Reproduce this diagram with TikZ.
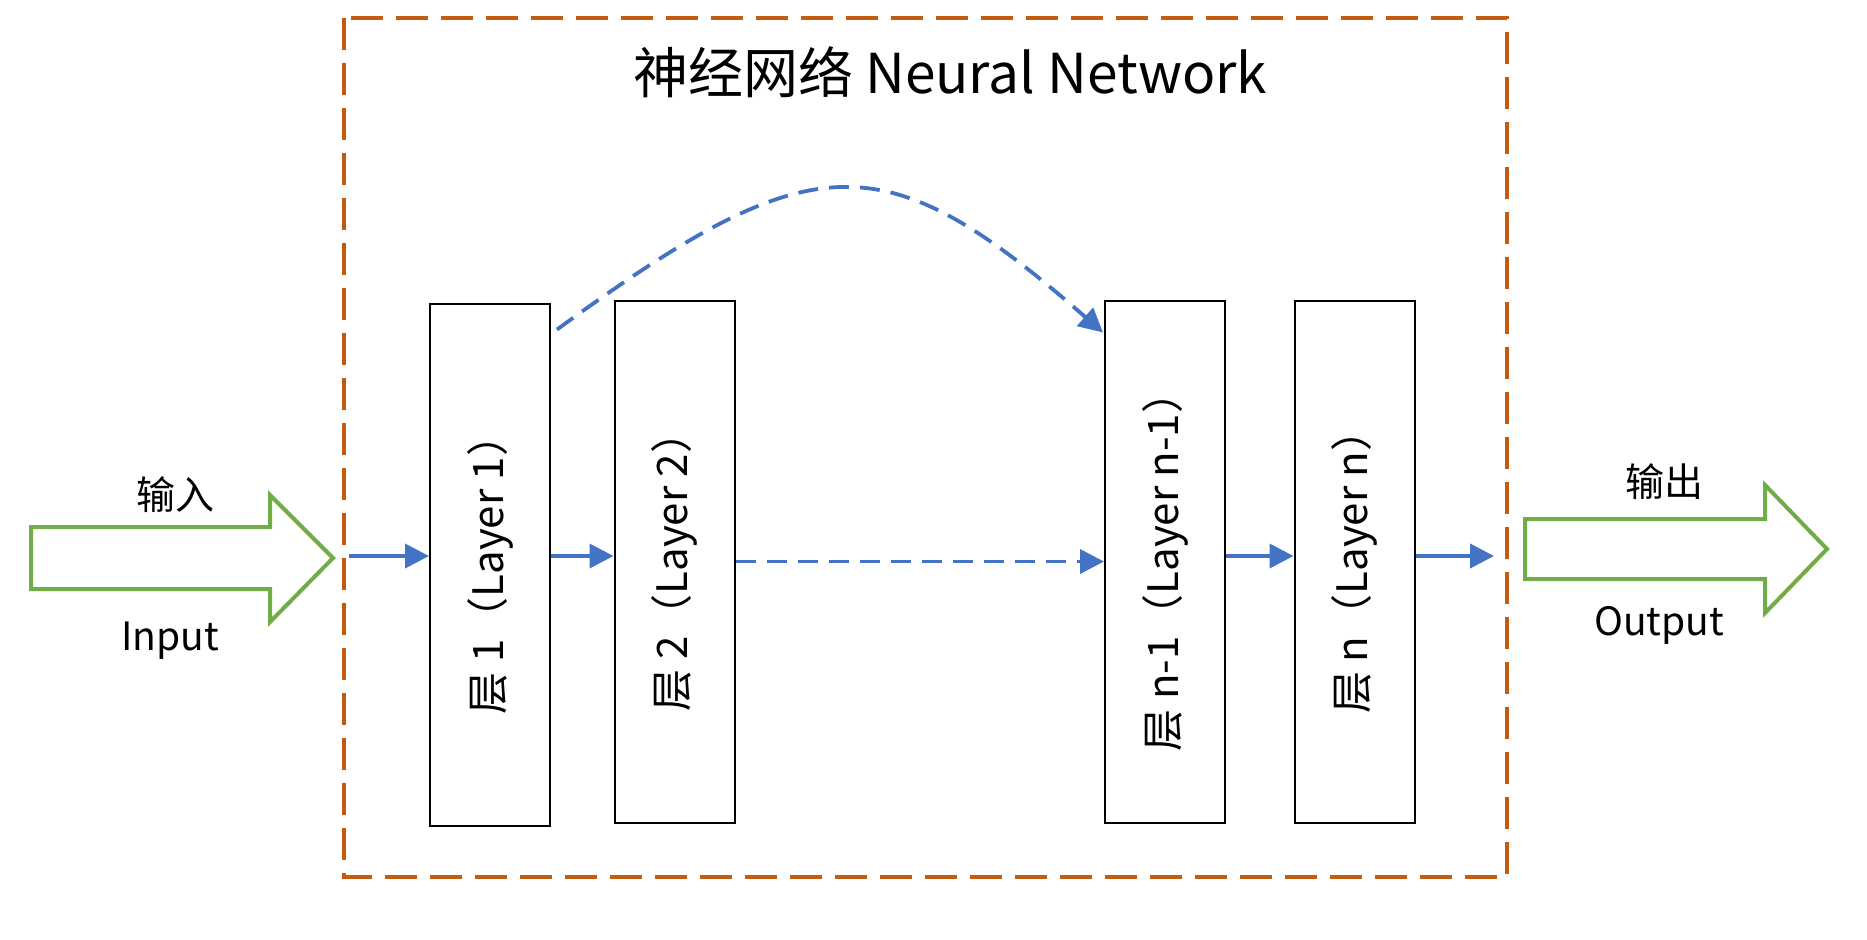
\documentclass[tikz,border=0pt]{standalone}
\usepackage{fontspec}
\setmainfont{Noto Sans CJK SC}
\usetikzlibrary{arrows.meta}
\definecolor{framebrown}{HTML}{C55A11}
\definecolor{flowblue}{HTML}{4472C4}
\definecolor{iogreen}{HTML}{70AD47}

\begin{document}
\begin{tikzpicture}[x=0.5pt,y=-0.5pt,
  layer/.style={draw,line width=1pt,minimum width=60pt,minimum height=261pt,inner sep=0pt,font=\fontsize{21}{25}\selectfont},
  flow/.style={draw=flowblue,line width=1.9pt,-{Triangle[length=12pt,width=12pt]}},
  skip/.style={flow,dash pattern=on 10pt off 5.5pt},
  bigarrow/.style={draw=iogreen,line width=2pt,line join=miter},
  lbl/.style={font=\fontsize{19.5}{23}\selectfont}]
\useasboundingbox (0,0) rectangle (1867,939);
% frame and title
\draw[framebrown,line width=1.9pt,dash pattern=on 16pt off 6.5pt] (344,18) rectangle (1507,877);
\node[anchor=base,font=\fontsize{27.5}{33}\selectfont] (title) at (950,93) {神经网络 Neural Network};
% layers
\node[layer] (l1) at (490,564.5) {\rotatebox{90}{层 1（Layer 1）}};
\node[layer] (l2) at (674.5,561.5) {\rotatebox{90}{层 2（Layer 2）}};
\node[layer] (lnm1) at (1165,561.5) {\rotatebox{90}{层 n-1（Layer n-1）}};
\node[layer] (ln) at (1354.5,561.5) {\rotatebox{90}{层 n（Layer n）}};
% input / output
\coordinate (in) at (349,556);
\coordinate (out) at (1494,556);
\draw[bigarrow] (31,527) -- (270,527) -- (270,495) -- (333,558) -- (270,622) -- (270,589) -- (31,589) -- cycle;
\draw[bigarrow] (1525,519) -- (1765,519) -- (1765,485) -- (1827,549) -- (1765,613) -- (1765,579) -- (1525,579) -- cycle;
\node[lbl] (inzh) at (175,495) {输入};
\node[lbl,anchor=base] (inen) at (170,650) {Input};
\node[lbl] (outzh) at (1664,482) {输出};
\node[lbl,anchor=base] (outen) at (1659,635) {Output};
% connections
\draw[flow] (in) -- (in -| l1.west);
\draw[flow] (in -| l1.east) -- (in -| l2.west);
\draw[skip] (l2.east) -- (lnm1.west);
\draw[flow] (in -| lnm1.east) -- (in -| ln.west);
\draw[flow] (in -| ln.east) -- (out);
\draw[skip] ([shift={(6,27)}]l1.north east) .. controls +(256,-186) and +(-221,-193) .. ([shift={(-1,33)}]lnm1.north west);
\end{tikzpicture}
\end{document}
